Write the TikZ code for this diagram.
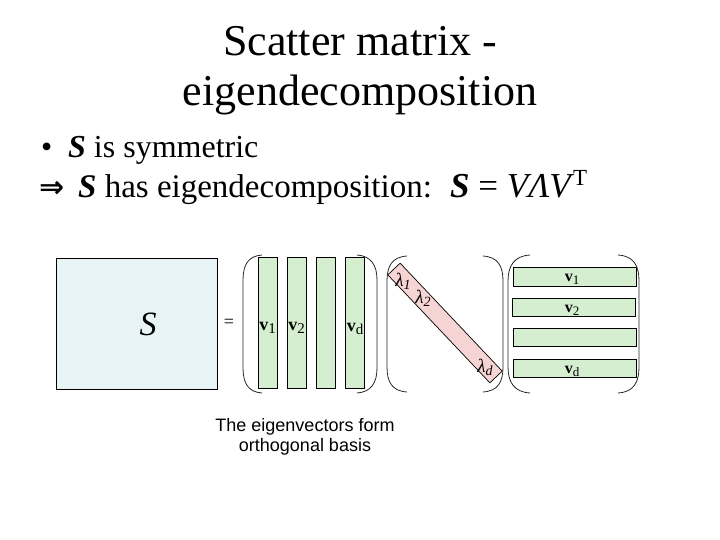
\documentclass[tikz,border=0pt]{standalone}
\usepackage{fontspec}
\setmainfont{Liberation Serif}
\newfontfamily\arialf{Liberation Sans}
\newfontfamily\djv{DejaVu Sans}
\definecolor{sqfill}{RGB}{232,243,246}
\definecolor{gfill}{RGB}{214,238,208}
\definecolor{pfill}{RGB}{246,212,212}
\newcommand{\vlabel}[2]{\textbf{v}\raisebox{-0.4ex}{\fontsize{#2}{#2}\selectfont #1}}
\newcommand{\lamlabel}[1]{\textit{λ}\raisebox{-0.35ex}{\fontsize{14}{14}\selectfont\itshape #1}}
\begin{document}
\begin{tikzpicture}[x=1pt,y=-1pt,
  box/.style={draw=black, line width=0.7pt},
  col/.style={box, fill=gfill, minimum width=19pt, minimum height=131pt, inner sep=0pt},
  rowbox/.style={box, fill=gfill, minimum width=123pt, minimum height=18.5pt, inner sep=0pt},
  paren/.style={draw=black!85, line width=0.8pt},
  vlab/.style={font=\fontsize{18}{18}\selectfont, inner sep=0pt},
  rlab/.style={font=\fontsize{16}{16}\selectfont, inner sep=0pt},
  lamlab/.style={font=\fontsize{19}{19}\selectfont, inner sep=0pt},
  ]
\useasboundingbox (0,0) rectangle (720,540);

% title
\node[anchor=base, inner sep=0pt] (t1) at (360,56) {\fontsize{44}{44}\selectfont Scatter matrix -};
\node[anchor=base, inner sep=0pt] (t2) at (360,106) {\fontsize{44}{44}\selectfont eigendecomposition};

% bullets
\node[anchor=base west, inner sep=0pt] (b1) at (41,158) {\fontsize{32}{32}\selectfont •};
\node[anchor=base west, inner sep=0pt] (l1) at (68,158) {\fontsize{32}{32}\selectfont \textbf{\textit{S}} is symmetric};
\node[anchor=base west, inner sep=0pt] (b2) at (39,197) {\fontsize{30}{30}\selectfont\djv\bfseries ⇒};
\node[anchor=base west, inner sep=0pt] (l2) at (78,197) {\fontsize{33}{33}\selectfont \textbf{\textit{S}} has eigendecomposition:};
\node[anchor=base west, inner sep=0pt] (l3) at (450,197) {\fontsize{35}{35}\selectfont \textbf{\textit{S}} = \textit{VΛV}\kern-1pt\raisebox{0.72ex}{\fontsize{23}{23}\selectfont T}};

% S square
\node[box, fill=sqfill, minimum width=161pt, minimum height=131pt, inner sep=0pt] (sq) at (136.5,323.5) {};
\node[inner sep=0pt] (slab) at (148,324) {\fontsize{34}{34}\selectfont\itshape S};
\node[inner sep=0pt] (eq) at (229,323) {\fontsize{18}{18}\selectfont =};

% V matrix
\node[col] (c1) at (267.5,322.5) {};
\node[col] (c2) at (296.5,322.5) {};
\node[col] (c3) at (326,322.5) {};
\node[col] (c4) at (355,322.5) {};
\node[vlab] (lc1) at (267.5,328) {\vlabel{1}{15}};
\node[vlab] (lc2) at (296.5,328) {\vlabel{2}{15}};
\node[vlab] (lc4) at (355,329) {\vlabel{d}{15}};
\draw[paren] (262,255) .. controls (248,256) and (243,265) .. (243,280) -- (243,368) .. controls (243,383) and (248,392) .. (262,393);
\draw[paren] (357,255) .. controls (371,256) and (377,265) .. (377,280) -- (377,368) .. controls (377,383) and (371,392) .. (357,393);

% Lambda matrix
\node[box, fill=pfill, rotate=-46.6, minimum width=148.6pt, minimum height=17pt, inner sep=0pt] (diag) at (445,323) {};
\node[lamlab] (la1) at (403,281) {\lamlabel{1}};
\node[lamlab] (la2) at (423,298) {\lamlabel{2}};
\node[lamlab] (lad) at (485,367) {\lamlabel{d}};
\draw[paren] (407,256) .. controls (392,257) and (387,266) .. (387,281) -- (387,367) .. controls (387,382) and (392,391) .. (407,392);
\draw[paren] (483,256) .. controls (498,257) and (503,266) .. (503,281) -- (503,367) .. controls (503,382) and (498,391) .. (483,392);

% V^T matrix
\node[rowbox] (r1) at (574.5,277) {};
\node[rowbox] (r2) at (574,307.5) {};
\node[rowbox] (r3) at (574.5,337.5) {};
\node[rowbox] (r4) at (574.5,368.5) {};
\node[rlab] (lr1) at (572,279) {\vlabel{1}{13}};
\node[rlab] (lr2) at (572,310) {\vlabel{2}{13}};
\node[rlab] (lr4) at (572,371) {\vlabel{d}{13}};
\draw[paren] (530,255) .. controls (514,256) and (508,266) .. (508,281) -- (508,367) .. controls (508,382) and (514,392) .. (530,393);
\draw[paren] (618,255) .. controls (634,256) and (639,266) .. (639,281) -- (639,367) .. controls (639,382) and (634,392) .. (618,393);

% caption
\node[font=\arialf\fontsize{18}{20}\selectfont, align=center, inner sep=0pt] (cap) at (305,437) {The eigenvectors form\\orthogonal basis};
\end{tikzpicture}
\end{document}
